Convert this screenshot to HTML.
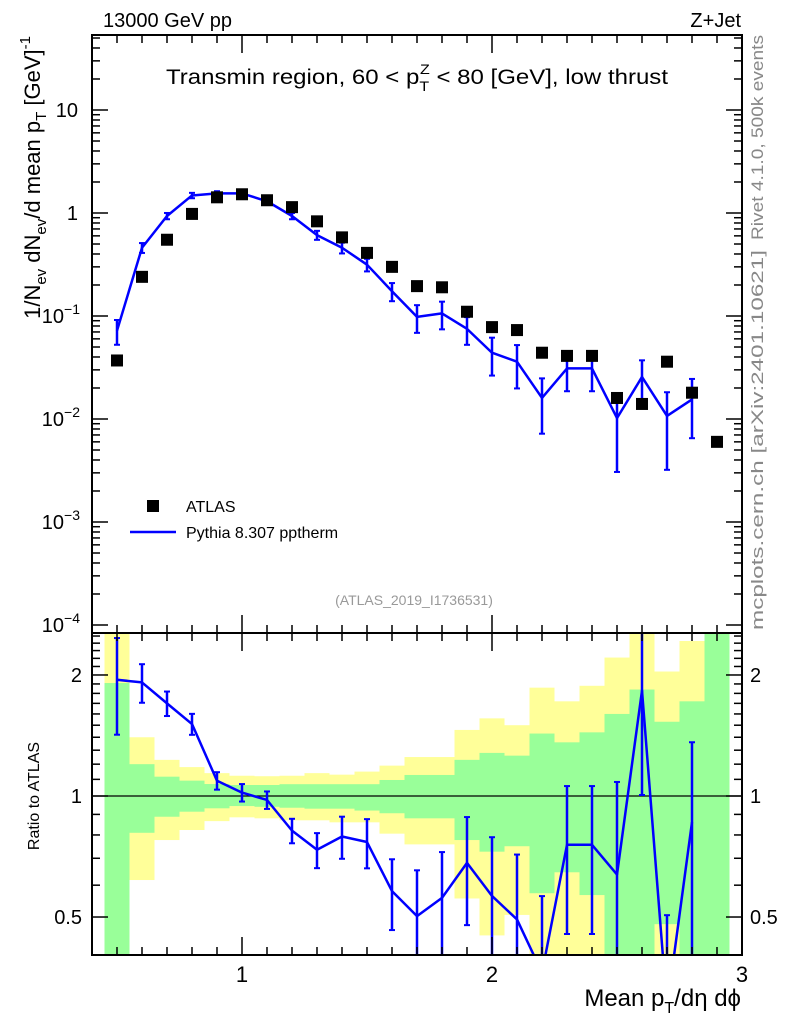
<!DOCTYPE html>
<html><head><meta charset="utf-8"><style>
html,body{margin:0;padding:0;background:#fff;overflow:hidden;width:786px;height:1024px;}
svg{display:block;font-family:"Liberation Sans",Arial,sans-serif;}
</style></head><body>
<svg id="chart" width="786" height="1024" viewBox="0 0 786 1024" xmlns="http://www.w3.org/2000/svg">
<defs>
<clipPath id="clipMain"><rect x="92" y="35" width="650" height="598"/></clipPath>
<clipPath id="clipRatio"><rect x="92" y="633" width="650" height="322"/></clipPath>
</defs>
<g id="ratioBands" clip-path="url(#clipRatio)"></g>
<g id="ratioRef"></g>
<g id="ratioMC" clip-path="url(#clipRatio)"></g>
<g id="mainMC" clip-path="url(#clipMain)"></g>
<g id="mainData" clip-path="url(#clipMain)"></g>
<g id="axes"></g>

<text x="103" y="27" font-size="20" textLength="129" lengthAdjust="spacingAndGlyphs">13000 GeV pp</text>
<text x="741" y="27" font-size="20" text-anchor="end">Z+Jet</text>
<text x="166" y="84" font-size="21" textLength="502" lengthAdjust="spacingAndGlyphs">Transmin region, 60 &lt; p<tspan font-size="14" dy="7">T</tspan><tspan font-size="14" dx="-8" dy="-17">Z</tspan><tspan dy="10"> &lt; 80 [GeV], low thrust</tspan></text>

<text transform="translate(40,36) rotate(-90)" font-size="22" text-anchor="end">1/N<tspan font-size="15" dy="6">ev</tspan><tspan dy="-6"> dN</tspan><tspan font-size="15" dy="6">ev</tspan><tspan dy="-6">/d mean p</tspan><tspan font-size="15" dy="6">T</tspan><tspan dy="-6"> [GeV]</tspan><tspan font-size="15" dy="-10">-1</tspan></text>
<text transform="translate(39,796) rotate(-90)" font-size="16" text-anchor="middle">Ratio to ATLAS</text>
<text x="741" y="1006" font-size="24" text-anchor="end">Mean p<tspan font-size="16" dy="7">T</tspan><tspan dy="-7">/dη dϕ</tspan></text>

<text transform="translate(763,240) rotate(-90)" font-size="17" fill="#888" textLength="205" lengthAdjust="spacingAndGlyphs">Rivet 4.1.0,  500k events</text>
<text transform="translate(763,630) rotate(-90)" font-size="17" fill="#888" textLength="380" lengthAdjust="spacingAndGlyphs">mcplots.cern.ch [arXiv:2401.10621]</text>
<text x="414" y="605" font-size="14" fill="#999" text-anchor="middle">(ATLAS_2019_I1736531)</text>

<g>
<rect x="147" y="500" width="12" height="12" fill="#000"/>
<text x="186" y="512" font-size="16">ATLAS</text>
<line x1="130" y1="532" x2="176" y2="532" stroke="#0000ff" stroke-width="2.5"/>
<text x="186" y="538" font-size="16">Pythia 8.307 pptherm</text>
</g>
</svg>
<script>
const xCenters = [0.5,0.6,0.7,0.8,0.9,1.0,1.1,1.2,1.3,1.4,1.5,1.6,1.7,1.8,1.9,2.0,2.1,2.2,2.3,2.4,2.5,2.6,2.7,2.8,2.9];
const atlasValues = [0.037,0.24,0.55,0.98,1.42,1.52,1.33,1.14,0.83,0.58,0.41,0.30,0.195,0.19,0.11,0.078,0.073,0.044,0.041,0.041,0.016,0.014,0.036,0.018,0.006];
const mcValues = [0.072,0.46,0.935,1.48,1.55,1.55,1.30,0.935,0.61,0.46,0.315,0.174,0.098,0.106,0.075,0.044,0.036,0.016,0.031,0.031,0.0102,0.0256,0.0107,0.0155];
const mcRelErr = [0.27,0.11,0.07,0.06,0.05,0.05,0.05,0.07,0.1,0.12,0.14,0.2,0.3,0.3,0.3,0.4,0.45,0.55,0.4,0.4,0.7,0.45,0.7,0.58];
const greenHi = [1.91,1.20,1.117,1.092,1.071,1.065,1.065,1.07,1.07,1.07,1.07,1.096,1.128,1.128,1.23,1.28,1.26,1.43,1.36,1.44,1.6,1.84,1.53,1.72,2.6];
const greenLo = [0.4,0.81,0.888,0.914,0.932,0.944,0.94,0.935,0.93,0.93,0.92,0.906,0.88,0.88,0.777,0.727,0.75,0.573,0.646,0.567,0.4,0.4,0.48,0.4,0.4];
const yellowHi = [2.6,1.40,1.23,1.18,1.14,1.123,1.12,1.123,1.14,1.13,1.15,1.19,1.25,1.25,1.46,1.56,1.50,1.86,1.72,1.88,2.21,2.6,2.04,2.43,2.6];
const yellowLo = [0.4,0.618,0.777,0.823,0.866,0.885,0.88,0.87,0.87,0.86,0.86,0.806,0.758,0.758,0.556,0.45,0.506,0.4,0.4,0.4,0.4,0.4,0.4,0.4,0.4];
const binHalfWidth = 0.05;

const NS='http://www.w3.org/2000/svg';
const X0=92,X1=742,XMIN=0.4,XMAX=3.0;
function sx(v){return X0+(v-XMIN)/(XMAX-XMIN)*(X1-X0);}
function sy(v){return 110-103*(Math.log10(v)-1);}
function ry(r){return 796-402*Math.log10(r);}
function mk(tag,attrs,parent){const e=document.createElementNS(NS,tag);for(const k in attrs)e.setAttribute(k,attrs[k]);parent.appendChild(e);return e;}

const bands=document.getElementById('ratioBands');
xCenters.forEach((x,i)=>{
  const a=sx(x-binHalfWidth), b=sx(x+binHalfWidth);
  const y1=mk('rect',{x:a,y:ry(yellowHi[i]),width:b-a,height:ry(yellowLo[i])-ry(yellowHi[i]),fill:'#ffff99'},bands);
  
  
  const g1=mk('rect',{x:a,y:ry(greenHi[i]),width:b-a,height:ry(greenLo[i])-ry(greenHi[i]),fill:'#99ff99'},bands);
  
  
});
const refL=mk('line',{x1:X0,x2:X1,y1:ry(1),y2:ry(1),stroke:'#000','stroke-width':1.2},document.getElementById('ratioRef'));



function errBar(g,x,ylo,yhi){
  const l=mk('line',{x1:x,x2:x,y1:ylo,y2:yhi,stroke:'#0000ff','stroke-width':2.5},g);
  
  
  mk('line',{x1:x-3,x2:x+3,y1:ylo,y2:ylo,stroke:'#0000ff','stroke-width':2},g);
  mk('line',{x1:x-3,x2:x+3,y1:yhi,y2:yhi,stroke:'#0000ff','stroke-width':2},g);
}
const gm=document.getElementById('mainMC');
let pts=[];
mcValues.forEach((v,i)=>{
  const x=sx(xCenters[i]);
  pts.push(x+','+sy(v));
  const lo=Math.max(v*(1-mcRelErr[i]),1e-6);
  errBar(gm,x,sy(lo),sy(v*(1+mcRelErr[i])));
});
const pl=mk('polyline',{points:pts.join(' '),fill:'none',stroke:'#0000ff','stroke-width':2.5,'stroke-linejoin':'round'},gm);



const gd=document.getElementById('mainData');
atlasValues.forEach((v,i)=>{
  const r=mk('rect',{x:sx(xCenters[i])-6,y:sy(v)-6,width:12,height:12,fill:'#000'},gd);
  
  
});

const gr=document.getElementById('ratioMC');
let rp=[];
mcValues.forEach((v,i)=>{
  const r=v/atlasValues[i], x=sx(xCenters[i]);
  rp.push(x+','+ry(r));
  errBar(gr,x,ry(Math.max(r*(1-mcRelErr[i]),0.05)),ry(r*(1+mcRelErr[i])));
});
const rl=mk('polyline',{points:rp.join(' '),fill:'none',stroke:'#0000ff','stroke-width':2.5,'stroke-linejoin':'round'},gr);



const ax=document.getElementById('axes');
function L(x1,y1,x2,y2,w){mk('line',{x1,y1,x2,y2,stroke:'#000','stroke-width':w||1.5},ax);}
function T(x,y,s,opts){const t=mk('text',Object.assign({x,y,'font-size':20},opts||{}),ax);t.textContent=s;return t;}
const f1=mk('rect',{x:X0,y:35,width:X1-X0,height:598,fill:'none',stroke:'#000','stroke-width':2},ax);


const f2=mk('rect',{x:X0,y:633,width:X1-X0,height:322,fill:'none',stroke:'#000','stroke-width':2},ax);


for(let k=4;k<=30;k++){
  const v=k/10, x=sx(v), major=(k%10===0), len=major?18:8;
  [[35,1],[633,-1],[633,1],[955,-1]].forEach(([y,d])=>L(x,y,x,y+d*len));
}
['1','2','3'].forEach((s,i)=>T(sx(i+1),982,s,{'text-anchor':'middle','font-size':22}));
for(let e=-4;e<=1;e++){
  for(let m=1;m<=9;m++){
    const v=m*Math.pow(10,e), y=sy(v);
    if(y<35||y>633)continue;
    const len=m===1?16:8;
    L(X0,y,X0+len,y);L(X1,y,X1-len,y);
  }
}
T(78,117,'10',{'text-anchor':'end'});
T(78,220,'1',{'text-anchor':'end'});
[-1,-2,-3,-4].forEach(e=>{
  const y=sy(Math.pow(10,e));
  const t=mk('text',{x:80,y:y+7,'font-size':20,'text-anchor':'end'},ax);
  t.textContent='10';
  const s=mk('tspan',{'font-size':14,dy:-9},t);s.textContent=String(e).replace('-','−');
});
const rTicks=[0.4,0.5,0.6,0.7,0.8,0.9,1,1.1,1.2,1.3,1.4,1.5,1.6,1.7,1.8,1.9,2,2.1,2.2,2.3,2.4,2.5];
rTicks.forEach(r=>{
  const y=ry(r); if(y<633||y>955)return;
  const len=(r===0.5||r===1||r===2)?16:8;
  L(X0,y,X0+len,y);L(X1,y,X1-len,y);
});
[[0.5,'0.5'],[1,'1'],[2,'2']].forEach(([r,s])=>{
  T(82,ry(r)+7,s,{'text-anchor':'end'});
  T(750,ry(r)+7,s,{'text-anchor':'start'});
});
</script>
</body></html>
